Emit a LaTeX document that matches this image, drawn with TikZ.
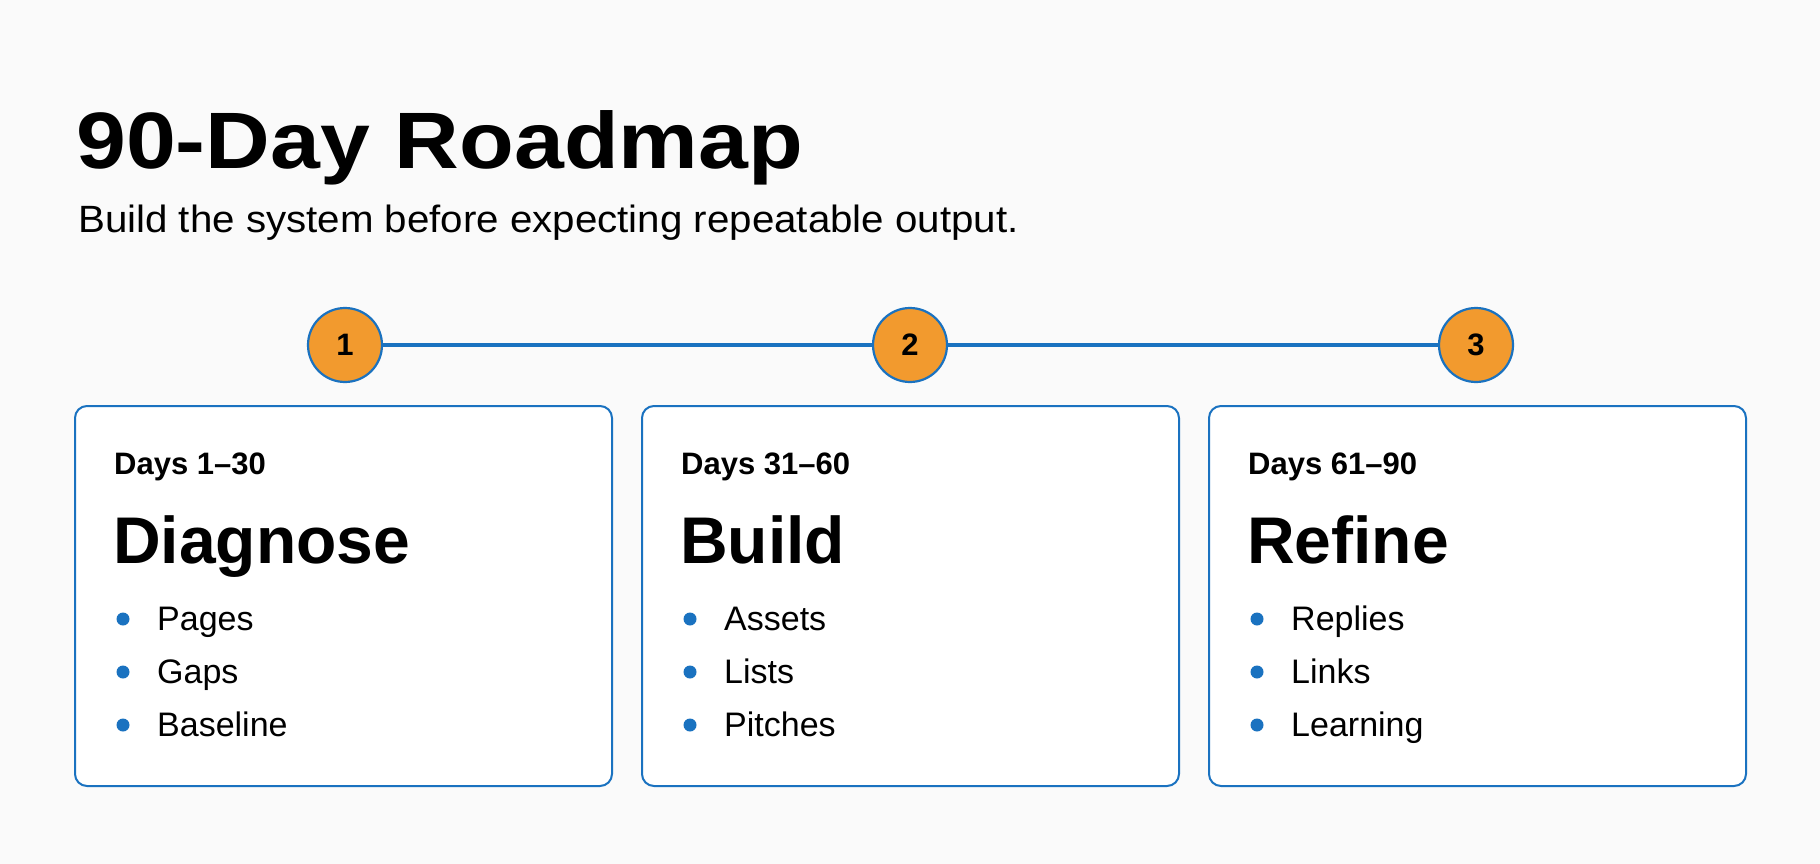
\documentclass[tikz,border=0pt]{standalone}
\usepackage{fontspec}
\setmainfont{Liberation Sans}
\definecolor{lineblue}{HTML}{1A72C0}
\definecolor{stepgold}{HTML}{F29A2E}
\definecolor{paper}{HTML}{FAFAFA}

\begin{document}
\begin{tikzpicture}[x=1pt,y=-1pt,
    every node/.style={inner sep=0pt,anchor=base west},
    marker/.style={circle,draw=lineblue,line width=2.2pt,fill=stepgold,minimum size=74pt,anchor=center,font=\fontsize{31}{33}\selectfont\bfseries},
    card/.style={draw=lineblue,line width=2pt,rounded corners=12pt,fill=white},
    days/.style={font=\fontsize{31}{34}\selectfont\bfseries},
    phase/.style={font=\fontsize{66}{72}\selectfont\bfseries},
    item/.style={font=\fontsize{34}{38}\selectfont}]
    \fill[paper] (0,0) rectangle (1820,864);
    \useasboundingbox (0,0) rectangle (1820,864);

    % Title and subtitle
    \node[font=\fontsize{80}{86}\selectfont\bfseries,xscale=1.12] (title) at (76,168) {90-Day Roadmap};
    \node[font=\fontsize{38}{42}\selectfont,xscale=1.06] (sub) at (78,232) {Build the system before expecting repeatable output.};

    % Step markers on the timeline
    \foreach \n / \x in {1/345,2/910,3/1476}
        \node[marker] (S-\n) at (\x,345) {\n};
    \draw[lineblue,line width=3.2pt] (S-1) -- (S-2);
    \draw[lineblue,line width=3.2pt] (S-2) -- (S-3);

    % Cards
    \foreach \n / \x / \d / \p / \a / \b / \c in
        {1/75/Days 1--30/Diagnose/Pages/Gaps/Baseline,
         2/642/Days 31--60/Build/Assets/Lists/Pitches,
         3/1209/Days 61--90/Refine/Replies/Links/Learning}
    {
        \draw[card] (\x,406) rectangle ++(537,380);
        \node[days] (D-\n) at (\x+39,474) {\d};
        \node[phase] (P-\n) at (\x+38,563) {\p};
        \foreach \t [count=\i] in {\a,\b,\c} {
            \fill[lineblue] (\x+48,{630+53*(\i-1)-11}) circle (6.5pt);
            \node[item] (B-\n-\i) at (\x+82,{630+53*(\i-1)}) {\t};
        }
    }
\end{tikzpicture}
\end{document}
